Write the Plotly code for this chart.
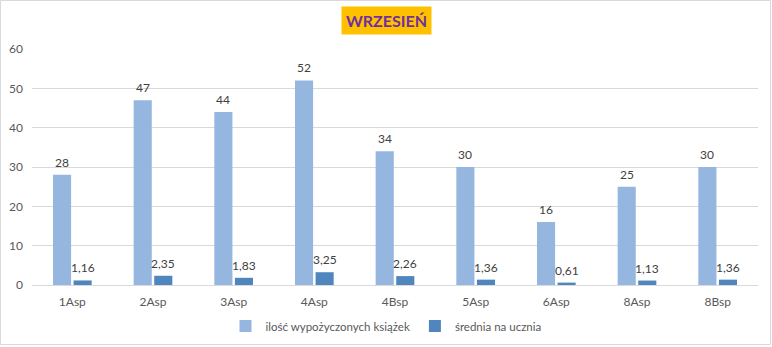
import plotly.graph_objects as go

categories = ["1Asp", "2Asp", "3Asp", "4Asp", "4Bsp", "5Asp", "6Asp", "8Asp", "8Bsp"]
books = [28, 47, 44, 52, 34, 30, 16, 25, 30]
avg = [1.16, 2.35, 1.83, 3.25, 2.26, 1.36, 0.61, 1.13, 1.36]
avg_labels = [f"{v:.2f}".replace(".", ",") for v in avg]
y_ticks = [0, 10, 20, 30, 40, 50, 60]

W, H = 772, 347
ML, MR, MT, MB = 32, 14, 49, 62
font = "Lato, 'Open Sans', sans-serif"

fig = go.Figure()
fig.add_trace(go.Bar(
    x=categories, y=books, name="ilość wypożyczonych książek",
    marker=dict(color="#95B7DF", line=dict(width=0)),
    offsetgroup="a",
))
fig.add_trace(go.Bar(
    x=categories, y=avg, name="średnia na ucznia",
    marker=dict(color="#4F86BE", line=dict(width=0)),
    offsetgroup="b",
))

# data labels, positioned via the axes
half = (1 - 0.49) / 4  # center offset of each bar inside the group
for i, c in enumerate(categories):
    fig.add_annotation(x=i - half, y=books[i], xref="x", yref="y",
                       text=str(books[i]), showarrow=False, yanchor="bottom", yshift=3,
                       font=dict(color="#404040", size=12, family=font))
    fig.add_annotation(x=i + half, y=avg[i], xref="x", yref="y",
                       text=avg_labels[i], showarrow=False, yanchor="bottom", yshift=3,
                       font=dict(color="#404040", size=12, family=font))

pw = W - ML - MR
ph = H - MT - MB
fig.add_shape(type="rect", xref="paper", yref="paper",
              x0=(0.5 - ML) / pw, x1=(W - 1.5 - ML) / pw,
              y0=-(MB - 2.5) / ph, y1=(ph + MT - 0.5) / ph,
              line=dict(color="#D9D9D9", width=1), layer="below")

fig.add_annotation(
    text="<b>WRZESIEŃ</b>", xref="paper", yref="paper",
    x=(386 - ML) / pw, y=(H - MB - 20.5) / ph, showarrow=False,
    font=dict(color="#7030A0", size=16, family=font),
    bgcolor="#FFC000", borderpad=4, xanchor="center", yanchor="middle",
)

fig.update_layout(
    width=W, height=H,
    margin=dict(l=ML, r=MR, t=MT, b=MB, autoexpand=False),
    paper_bgcolor="white", plot_bgcolor="white",
    barmode="group", bargap=0.49, bargroupgap=0.12,
    font=dict(family=font, color="#595959", size=12),
    showlegend=True,
    legend=dict(orientation="h", x=0.5, xref="container", xanchor="center",
                y=1 - 326 / H, yref="container", yanchor="middle",
                font=dict(size=11.5, color="#595959"), itemwidth=30, traceorder="normal"),
    xaxis=dict(showgrid=False, showline=True, linecolor="#D9D9D9", linewidth=1,
               ticks="", tickfont=dict(size=12, color="#595959"), automargin=False,
               ticklabelstandoff=6),
    yaxis=dict(range=[0, 60], tickvals=y_ticks, showgrid=True, gridcolor="#D9D9D9",
               gridwidth=1, zeroline=False, showline=False, ticks="", automargin=False,
               tickfont=dict(size=12, color="#595959"), ticklabelstandoff=8),
)

fig.write_html("out.html")
